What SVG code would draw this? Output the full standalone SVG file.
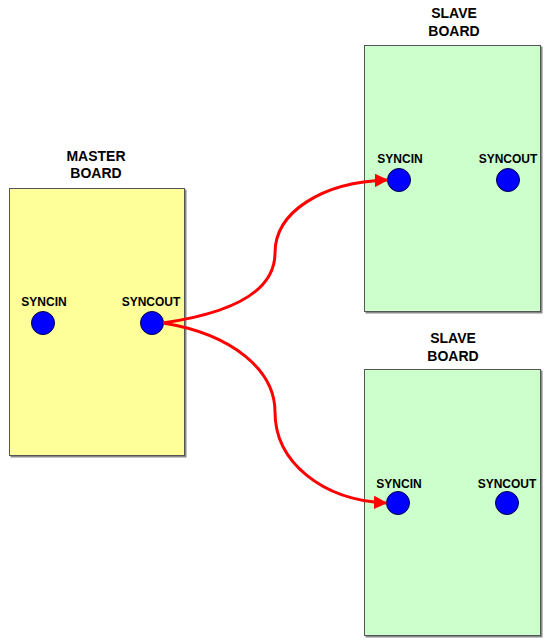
<svg xmlns="http://www.w3.org/2000/svg" width="550" height="642" viewBox="0 0 550 642">
<defs>
<style>
.title{font-family:"Liberation Sans",Arial,sans-serif;font-weight:bold;font-size:14px;fill:#000;text-anchor:middle}
.lbl{font-family:"Liberation Sans",Arial,sans-serif;font-weight:bold;font-size:12px;fill:#000;text-anchor:middle}
.master{fill:#FFFF99;stroke:#555;stroke-width:1}
.slave{fill:#CCFFCC;stroke:#555;stroke-width:1}
.shadow{fill:#888}
.pin{fill:#0000FF;stroke:#000044;stroke-width:1}
.wire{fill:none;stroke:#FF0000;stroke-width:3;marker-end:url(#arr)}
</style>
<marker id="arr" viewBox="0 0 10 10" refX="9" refY="5" markerWidth="4.5" markerHeight="4.5" orient="auto" markerUnits="strokeWidth">
<path d="M0,0 L10,5 L0,10 z" fill="#FF0000"/>
</marker>
</defs>
<rect width="550" height="642" fill="#fff"/>
<g id="master">
<rect class="shadow" x="10.5" y="189.5" width="176" height="268"/>
<rect class="master" x="9.5" y="188.5" width="175" height="267"/>
<text class="title" x="96" y="161">MASTER</text>
<text class="title" x="96" y="178">BOARD</text>
<text class="lbl" x="44" y="306">SYNCIN</text>
<text class="lbl" x="151" y="306">SYNCOUT</text>
<circle class="pin" cx="43" cy="323" r="11.5"/>
<circle class="pin" cx="152" cy="323" r="11.5"/>
</g>
<g id="slave1">
<rect class="shadow" x="365.5" y="46.5" width="177" height="267"/>
<rect class="slave" x="364.5" y="45.5" width="176" height="266"/>
<text class="title" x="454" y="18">SLAVE</text>
<text class="title" x="454" y="35.5">BOARD</text>
<text class="lbl" x="400" y="163">SYNCIN</text>
<text class="lbl" x="508" y="163">SYNCOUT</text>
<circle class="pin" cx="399" cy="180" r="11.5"/>
<circle class="pin" cx="508" cy="180" r="11.5"/>
</g>
<g id="slave2">
<rect class="shadow" x="365.5" y="370.5" width="177" height="267"/>
<rect class="slave" x="364.5" y="369.5" width="176" height="266"/>
<text class="title" x="453" y="343">SLAVE</text>
<text class="title" x="453" y="360.5">BOARD</text>
<text class="lbl" x="399" y="488">SYNCIN</text>
<text class="lbl" x="507" y="488">SYNCOUT</text>
<circle class="pin" cx="398" cy="503" r="11.5"/>
<circle class="pin" cx="507" cy="503" r="11.5"/>
</g>
<g id="connectors">
<path class="wire" d="M163,323 C232,313 275,292 275,253 C275,212 322,182 387,180"/>
<path class="wire" d="M163,323 C232,334 275,370 275,412 C275,462 322,500 386,503"/>
</g>
</svg>
